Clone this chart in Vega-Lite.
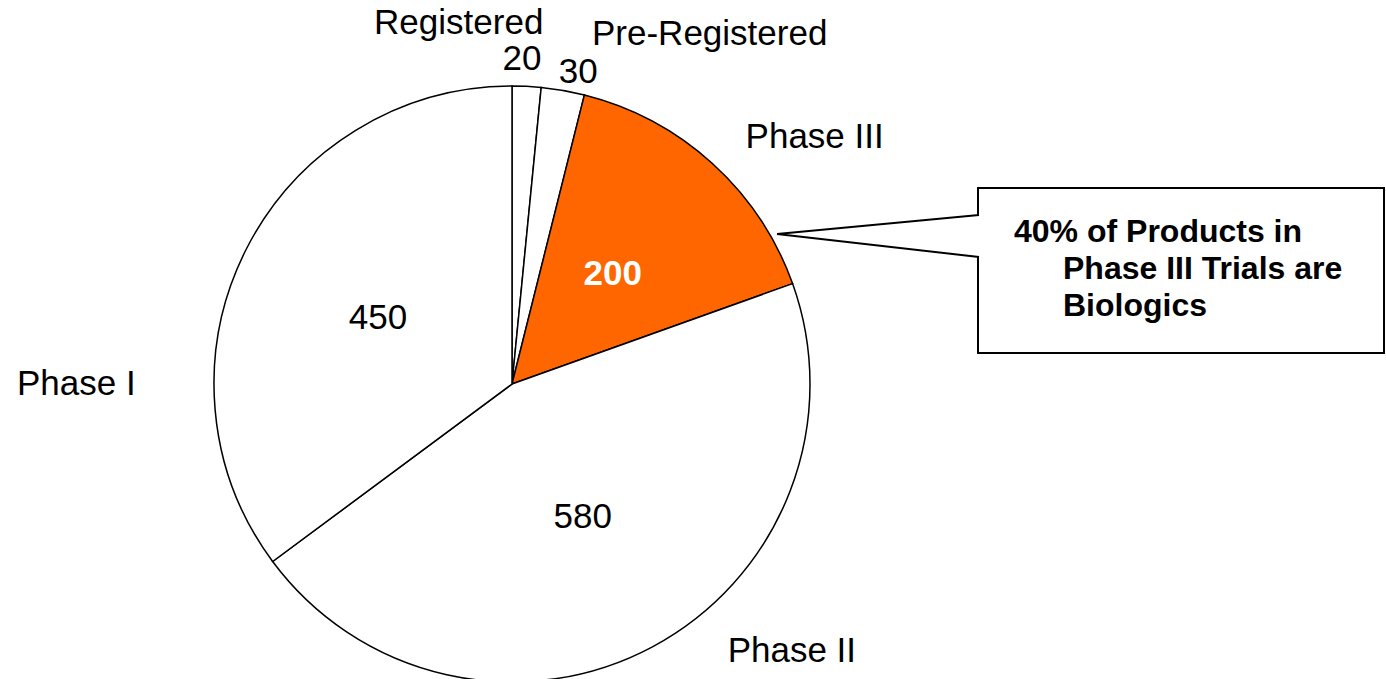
{
  "$schema": "https://vega.github.io/schema/vega-lite/v6.json",
  "width": 1024,
  "height": 768,
  "padding": 0,
  "autosize": {"type": "pad"},
  "background": "white",
  "config": {"view": {"stroke": null}, "text": {"font": "Liberation Sans", "fontSize": 35, "fill": "black"}},
  "datasets": {
    "pipeline": [
      {"rank": 1, "stage": "Registered", "products": 20},
      {"rank": 2, "stage": "Pre-Registered", "products": 30},
      {"rank": 3, "stage": "Phase III", "products": 200},
      {"rank": 4, "stage": "Phase II", "products": 580},
      {"rank": 5, "stage": "Phase I", "products": 450}
    ],
    "note1": [{"line": "40% of Products in"}],
    "note2": [{"line": "Phase III Trials are"}],
    "note3": [{"line": "Biologics"}],
    "box": [{"shape": "callout"}]
  },
  "layer": [
    {
      "data": {"name": "pipeline"},
      "encoding": {
        "theta": {"field": "products", "type": "quantitative", "stack": true},
        "order": {"field": "rank", "type": "quantitative", "sort": "ascending"}
      },
      "layer": [
        {"mark": {"type": "arc", "outerRadius": 298, "stroke": "black", "strokeWidth": 1.5},
         "encoding": {"fill": {"condition": {"test": "datum.stage === 'Phase III'", "value": "#FF6600"}, "value": "white"}}},
        {"mark": {"type": "text", "radius": 150, "dy": 1},
         "encoding": {"text": {"condition": {"test": "datum.stage === 'Phase I' || datum.stage === 'Phase II'", "field": "products", "type": "quantitative"}, "value": ""}}},
        {"mark": {"type": "text", "radius": 150, "dy": 1, "fontWeight": "bold", "fill": "white"},
         "encoding": {"text": {"condition": {"test": "datum.stage === 'Phase III'", "field": "products", "type": "quantitative"}, "value": ""}}},
        {"mark": {"type": "text", "radius": 327, "dx": -6, "dy": 2},
         "encoding": {"text": {"condition": {"test": "datum.stage === 'Registered'", "field": "products", "type": "quantitative"}, "value": ""}}},
        {"mark": {"type": "text", "radius": 317, "dx": 12},
         "encoding": {"text": {"condition": {"test": "datum.stage === 'Pre-Registered'", "field": "products", "type": "quantitative"}, "value": ""}}},
        {"mark": {"type": "text", "radius": 361, "dx": -71},
         "encoding": {"text": {"condition": {"test": "datum.stage === 'Registered'", "field": "stage", "type": "nominal"}, "value": ""}}},
        {"mark": {"type": "text", "radius": 355, "dx": 137},
         "encoding": {"text": {"condition": {"test": "datum.stage === 'Pre-Registered'", "field": "stage", "type": "nominal"}, "value": ""}}},
        {"mark": {"type": "text", "radius": 333, "dx": 79},
         "encoding": {"text": {"condition": {"test": "datum.stage === 'Phase III'", "field": "stage", "type": "nominal"}, "value": ""}}},
        {"mark": {"type": "text", "radius": 303, "dx": 137},
         "encoding": {"text": {"condition": {"test": "datum.stage === 'Phase II'", "field": "stage", "type": "nominal"}, "value": ""}}},
        {"mark": {"type": "text", "radius": 340, "dx": -132, "dy": 153},
         "encoding": {"text": {"condition": {"test": "datum.stage === 'Phase I'", "field": "stage", "type": "nominal"}, "value": ""}}}
      ]
    },
    {
      "data": {"name": "box"},
      "mark": {"type": "rect", "fill": "white", "stroke": "black", "strokeWidth": 2},
      "encoding": {"x": {"value": 978}, "x2": {"value": 1384}, "y": {"value": 188}, "y2": {"value": 353}}
    },
    {
      "data": {"name": "box"},
      "mark": {"type": "rule", "stroke": "white", "strokeWidth": 4},
      "encoding": {"x": {"value": 978}, "x2": {"value": 978}, "y": {"value": 216}, "y2": {"value": 256}}
    },
    {
      "data": {"name": "box"},
      "mark": {"type": "rule", "stroke": "black", "strokeWidth": 2},
      "encoding": {"x": {"value": 979}, "x2": {"value": 777}, "y": {"value": 215}, "y2": {"value": 234}}
    },
    {
      "data": {"name": "box"},
      "mark": {"type": "rule", "stroke": "black", "strokeWidth": 2},
      "encoding": {"x": {"value": 777}, "x2": {"value": 979}, "y": {"value": 234}, "y2": {"value": 257}}
    },
    {
      "data": {"name": "note1"},
      "mark": {"type": "text", "align": "left", "baseline": "alphabetic", "fontWeight": "bold", "fontSize": 32},
      "encoding": {"x": {"value": 1014}, "y": {"value": 242}, "text": {"field": "line", "type": "nominal"}}
    },
    {
      "data": {"name": "note2"},
      "mark": {"type": "text", "align": "left", "baseline": "alphabetic", "fontWeight": "bold", "fontSize": 32},
      "encoding": {"x": {"value": 1063}, "y": {"value": 279}, "text": {"field": "line", "type": "nominal"}}
    },
    {
      "data": {"name": "note3"},
      "mark": {"type": "text", "align": "left", "baseline": "alphabetic", "fontWeight": "bold", "fontSize": 32},
      "encoding": {"x": {"value": 1063}, "y": {"value": 316}, "text": {"field": "line", "type": "nominal"}}
    }
  ]
}
